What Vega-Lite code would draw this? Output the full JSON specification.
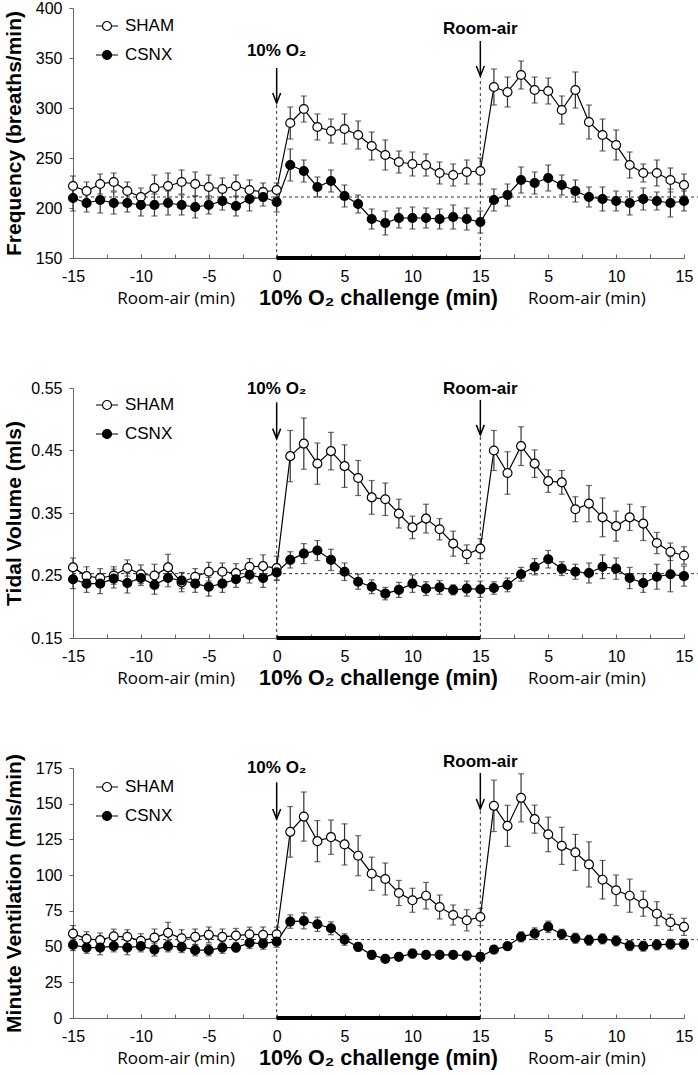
{
"$schema": "https://vega.github.io/schema/vega-lite/v6.json",
"padding": {"left": 3, "top": 0, "right": 0, "bottom": 0},
"spacing": 130,
"bounds": "flush",
"resolve": {"scale": {"x": "independent", "y": "independent", "fill": "independent"}, "legend": {"fill": "independent"}},
"config": {
  "view": {"stroke": null},
  "font": "Liberation Sans",
  "axis": {"grid": false, "domainColor": "#666", "tickColor": "#666", "labelColor": "black", "labelFontSize": 16, "labelFont": "Liberation Sans", "titleColor": "black", "labelOverlap": false, "labelBound": false, "labelFlush": false}
},
"datasets": {
"pts": [
{"p":"F","g":"SHAM","t":-15,"v":222,"e":10},{"p":"F","g":"SHAM","t":-14,"v":217,"e":9},{"p":"F","g":"SHAM","t":-13,"v":224,"e":10},{"p":"F","g":"SHAM","t":-12,"v":226,"e":9},{"p":"F","g":"SHAM","t":-11,"v":217,"e":9},{"p":"F","g":"SHAM","t":-10,"v":211,"e":9},{"p":"F","g":"SHAM","t":-9,"v":220,"e":13},{"p":"F","g":"SHAM","t":-8,"v":222,"e":13},{"p":"F","g":"SHAM","t":-7,"v":226,"e":12},{"p":"F","g":"SHAM","t":-6,"v":224,"e":12},{"p":"F","g":"SHAM","t":-5,"v":221,"e":12},{"p":"F","g":"SHAM","t":-4,"v":219,"e":11},{"p":"F","g":"SHAM","t":-3,"v":222,"e":11},{"p":"F","g":"SHAM","t":-2,"v":218,"e":10},{"p":"F","g":"SHAM","t":-1,"v":216,"e":9},{"p":"F","g":"SHAM","t":0,"v":218,"e":7},
{"p":"F","g":"SHAM","t":1,"v":285,"e":16},{"p":"F","g":"SHAM","t":2,"v":299,"e":13},{"p":"F","g":"SHAM","t":3,"v":281,"e":13},{"p":"F","g":"SHAM","t":4,"v":277,"e":12},{"p":"F","g":"SHAM","t":5,"v":279,"e":15},{"p":"F","g":"SHAM","t":6,"v":273,"e":14},{"p":"F","g":"SHAM","t":7,"v":262,"e":14},{"p":"F","g":"SHAM","t":8,"v":253,"e":15},{"p":"F","g":"SHAM","t":9,"v":246,"e":11},{"p":"F","g":"SHAM","t":10,"v":244,"e":12},{"p":"F","g":"SHAM","t":11,"v":243,"e":11},{"p":"F","g":"SHAM","t":12,"v":235,"e":11},{"p":"F","g":"SHAM","t":13,"v":233,"e":11},{"p":"F","g":"SHAM","t":14,"v":236,"e":12},{"p":"F","g":"SHAM","t":15,"v":237,"e":13},
{"p":"F","g":"SHAM","t":16,"v":321,"e":18},{"p":"F","g":"SHAM","t":17,"v":316,"e":15},{"p":"F","g":"SHAM","t":18,"v":333,"e":14},{"p":"F","g":"SHAM","t":19,"v":318,"e":13},{"p":"F","g":"SHAM","t":20,"v":317,"e":13},{"p":"F","g":"SHAM","t":21,"v":298,"e":14},{"p":"F","g":"SHAM","t":22,"v":318,"e":18},{"p":"F","g":"SHAM","t":23,"v":286,"e":17},{"p":"F","g":"SHAM","t":24,"v":273,"e":16},{"p":"F","g":"SHAM","t":25,"v":263,"e":15},{"p":"F","g":"SHAM","t":26,"v":243,"e":13},{"p":"F","g":"SHAM","t":27,"v":235,"e":9},{"p":"F","g":"SHAM","t":28,"v":235,"e":13},{"p":"F","g":"SHAM","t":29,"v":228,"e":12},{"p":"F","g":"SHAM","t":30,"v":223,"e":11},
{"p":"F","g":"CSNX","t":-15,"v":210,"e":13},{"p":"F","g":"CSNX","t":-14,"v":205,"e":9},{"p":"F","g":"CSNX","t":-13,"v":208,"e":13},{"p":"F","g":"CSNX","t":-12,"v":205,"e":11},{"p":"F","g":"CSNX","t":-11,"v":205,"e":9},{"p":"F","g":"CSNX","t":-10,"v":203,"e":11},{"p":"F","g":"CSNX","t":-9,"v":203,"e":11},{"p":"F","g":"CSNX","t":-8,"v":205,"e":12},{"p":"F","g":"CSNX","t":-7,"v":203,"e":10},{"p":"F","g":"CSNX","t":-6,"v":201,"e":11},{"p":"F","g":"CSNX","t":-5,"v":203,"e":9},{"p":"F","g":"CSNX","t":-4,"v":207,"e":9},{"p":"F","g":"CSNX","t":-3,"v":202,"e":10},{"p":"F","g":"CSNX","t":-2,"v":209,"e":12},{"p":"F","g":"CSNX","t":-1,"v":211,"e":9},{"p":"F","g":"CSNX","t":0,"v":206,"e":10},
{"p":"F","g":"CSNX","t":1,"v":243,"e":16},{"p":"F","g":"CSNX","t":2,"v":237,"e":11},{"p":"F","g":"CSNX","t":3,"v":221,"e":10},{"p":"F","g":"CSNX","t":4,"v":227,"e":11},{"p":"F","g":"CSNX","t":5,"v":212,"e":11},{"p":"F","g":"CSNX","t":6,"v":204,"e":9},{"p":"F","g":"CSNX","t":7,"v":189,"e":10},{"p":"F","g":"CSNX","t":8,"v":185,"e":12},{"p":"F","g":"CSNX","t":9,"v":190,"e":10},{"p":"F","g":"CSNX","t":10,"v":190,"e":11},{"p":"F","g":"CSNX","t":11,"v":190,"e":10},{"p":"F","g":"CSNX","t":12,"v":189,"e":10},{"p":"F","g":"CSNX","t":13,"v":191,"e":12},{"p":"F","g":"CSNX","t":14,"v":189,"e":11},{"p":"F","g":"CSNX","t":15,"v":186,"e":11},
{"p":"F","g":"CSNX","t":16,"v":208,"e":11},{"p":"F","g":"CSNX","t":17,"v":213,"e":11},{"p":"F","g":"CSNX","t":18,"v":228,"e":13},{"p":"F","g":"CSNX","t":19,"v":225,"e":11},{"p":"F","g":"CSNX","t":20,"v":230,"e":13},{"p":"F","g":"CSNX","t":21,"v":223,"e":10},{"p":"F","g":"CSNX","t":22,"v":217,"e":11},{"p":"F","g":"CSNX","t":23,"v":211,"e":10},{"p":"F","g":"CSNX","t":24,"v":209,"e":12},{"p":"F","g":"CSNX","t":25,"v":207,"e":10},{"p":"F","g":"CSNX","t":26,"v":205,"e":12},{"p":"F","g":"CSNX","t":27,"v":209,"e":11},{"p":"F","g":"CSNX","t":28,"v":207,"e":9},{"p":"F","g":"CSNX","t":29,"v":205,"e":14},{"p":"F","g":"CSNX","t":30,"v":207,"e":10},
{"p":"T","g":"SHAM","t":-15,"v":0.263,"e":0.015},{"p":"T","g":"SHAM","t":-14,"v":0.249,"e":0.015},{"p":"T","g":"SHAM","t":-13,"v":0.246,"e":0.015},{"p":"T","g":"SHAM","t":-12,"v":0.250,"e":0.014},{"p":"T","g":"SHAM","t":-11,"v":0.262,"e":0.013},{"p":"T","g":"SHAM","t":-10,"v":0.252,"e":0.015},{"p":"T","g":"SHAM","t":-9,"v":0.250,"e":0.018},{"p":"T","g":"SHAM","t":-8,"v":0.263,"e":0.021},{"p":"T","g":"SHAM","t":-7,"v":0.239,"e":0.015},{"p":"T","g":"SHAM","t":-6,"v":0.248,"e":0.013},{"p":"T","g":"SHAM","t":-5,"v":0.256,"e":0.015},{"p":"T","g":"SHAM","t":-4,"v":0.256,"e":0.014},{"p":"T","g":"SHAM","t":-3,"v":0.254,"e":0.015},{"p":"T","g":"SHAM","t":-2,"v":0.264,"e":0.013},{"p":"T","g":"SHAM","t":-1,"v":0.265,"e":0.018},{"p":"T","g":"SHAM","t":0,"v":0.262,"e":0.019},
{"p":"T","g":"SHAM","t":1,"v":0.441,"e":0.041},{"p":"T","g":"SHAM","t":2,"v":0.461,"e":0.041},{"p":"T","g":"SHAM","t":3,"v":0.429,"e":0.033},{"p":"T","g":"SHAM","t":4,"v":0.449,"e":0.030},{"p":"T","g":"SHAM","t":5,"v":0.425,"e":0.034},{"p":"T","g":"SHAM","t":6,"v":0.406,"e":0.028},{"p":"T","g":"SHAM","t":7,"v":0.375,"e":0.027},{"p":"T","g":"SHAM","t":8,"v":0.372,"e":0.026},{"p":"T","g":"SHAM","t":9,"v":0.349,"e":0.023},{"p":"T","g":"SHAM","t":10,"v":0.327,"e":0.018},{"p":"T","g":"SHAM","t":11,"v":0.341,"e":0.023},{"p":"T","g":"SHAM","t":12,"v":0.324,"e":0.017},{"p":"T","g":"SHAM","t":13,"v":0.301,"e":0.020},{"p":"T","g":"SHAM","t":14,"v":0.284,"e":0.015},{"p":"T","g":"SHAM","t":15,"v":0.293,"e":0.016},
{"p":"T","g":"SHAM","t":16,"v":0.450,"e":0.032},{"p":"T","g":"SHAM","t":17,"v":0.414,"e":0.034},{"p":"T","g":"SHAM","t":18,"v":0.457,"e":0.031},{"p":"T","g":"SHAM","t":19,"v":0.429,"e":0.022},{"p":"T","g":"SHAM","t":20,"v":0.401,"e":0.018},{"p":"T","g":"SHAM","t":21,"v":0.399,"e":0.019},{"p":"T","g":"SHAM","t":22,"v":0.356,"e":0.020},{"p":"T","g":"SHAM","t":23,"v":0.365,"e":0.029},{"p":"T","g":"SHAM","t":24,"v":0.343,"e":0.031},{"p":"T","g":"SHAM","t":25,"v":0.329,"e":0.024},{"p":"T","g":"SHAM","t":26,"v":0.343,"e":0.021},{"p":"T","g":"SHAM","t":27,"v":0.333,"e":0.027},{"p":"T","g":"SHAM","t":28,"v":0.302,"e":0.017},{"p":"T","g":"SHAM","t":29,"v":0.288,"e":0.014},{"p":"T","g":"SHAM","t":30,"v":0.282,"e":0.014},
{"p":"T","g":"CSNX","t":-15,"v":0.244,"e":0.015},{"p":"T","g":"CSNX","t":-14,"v":0.237,"e":0.014},{"p":"T","g":"CSNX","t":-13,"v":0.237,"e":0.016},{"p":"T","g":"CSNX","t":-12,"v":0.245,"e":0.015},{"p":"T","g":"CSNX","t":-11,"v":0.238,"e":0.016},{"p":"T","g":"CSNX","t":-10,"v":0.246,"e":0.012},{"p":"T","g":"CSNX","t":-9,"v":0.235,"e":0.015},{"p":"T","g":"CSNX","t":-8,"v":0.246,"e":0.014},{"p":"T","g":"CSNX","t":-7,"v":0.242,"e":0.013},{"p":"T","g":"CSNX","t":-6,"v":0.237,"e":0.014},{"p":"T","g":"CSNX","t":-5,"v":0.232,"e":0.015},{"p":"T","g":"CSNX","t":-4,"v":0.237,"e":0.014},{"p":"T","g":"CSNX","t":-3,"v":0.244,"e":0.013},{"p":"T","g":"CSNX","t":-2,"v":0.251,"e":0.013},{"p":"T","g":"CSNX","t":-1,"v":0.246,"e":0.015},{"p":"T","g":"CSNX","t":0,"v":0.255,"e":0.013},
{"p":"T","g":"CSNX","t":1,"v":0.275,"e":0.013},{"p":"T","g":"CSNX","t":2,"v":0.285,"e":0.016},{"p":"T","g":"CSNX","t":3,"v":0.290,"e":0.016},{"p":"T","g":"CSNX","t":4,"v":0.275,"e":0.017},{"p":"T","g":"CSNX","t":5,"v":0.256,"e":0.014},{"p":"T","g":"CSNX","t":6,"v":0.240,"e":0.012},{"p":"T","g":"CSNX","t":7,"v":0.232,"e":0.011},{"p":"T","g":"CSNX","t":8,"v":0.221,"e":0.010},{"p":"T","g":"CSNX","t":9,"v":0.227,"e":0.012},{"p":"T","g":"CSNX","t":10,"v":0.237,"e":0.014},{"p":"T","g":"CSNX","t":11,"v":0.229,"e":0.011},{"p":"T","g":"CSNX","t":12,"v":0.231,"e":0.011},{"p":"T","g":"CSNX","t":13,"v":0.227,"e":0.008},{"p":"T","g":"CSNX","t":14,"v":0.229,"e":0.012},{"p":"T","g":"CSNX","t":15,"v":0.228,"e":0.013},
{"p":"T","g":"CSNX","t":16,"v":0.230,"e":0.010},{"p":"T","g":"CSNX","t":17,"v":0.235,"e":0.011},{"p":"T","g":"CSNX","t":18,"v":0.252,"e":0.011},{"p":"T","g":"CSNX","t":19,"v":0.264,"e":0.013},{"p":"T","g":"CSNX","t":20,"v":0.276,"e":0.014},{"p":"T","g":"CSNX","t":21,"v":0.261,"e":0.011},{"p":"T","g":"CSNX","t":22,"v":0.256,"e":0.012},{"p":"T","g":"CSNX","t":23,"v":0.254,"e":0.016},{"p":"T","g":"CSNX","t":24,"v":0.264,"e":0.019},{"p":"T","g":"CSNX","t":25,"v":0.261,"e":0.017},{"p":"T","g":"CSNX","t":26,"v":0.246,"e":0.017},{"p":"T","g":"CSNX","t":27,"v":0.238,"e":0.015},{"p":"T","g":"CSNX","t":28,"v":0.248,"e":0.020},{"p":"T","g":"CSNX","t":29,"v":0.252,"e":0.028},{"p":"T","g":"CSNX","t":30,"v":0.249,"e":0.016},
{"p":"M","g":"SHAM","t":-15,"v":59.1,"e":5.6},{"p":"M","g":"SHAM","t":-14,"v":55.4,"e":5},{"p":"M","g":"SHAM","t":-13,"v":54.5,"e":5},{"p":"M","g":"SHAM","t":-12,"v":57.2,"e":5},{"p":"M","g":"SHAM","t":-11,"v":56.8,"e":5},{"p":"M","g":"SHAM","t":-10,"v":54,"e":5},{"p":"M","g":"SHAM","t":-9,"v":56.3,"e":6},{"p":"M","g":"SHAM","t":-8,"v":59.6,"e":7.4},{"p":"M","g":"SHAM","t":-7,"v":55.8,"e":6},{"p":"M","g":"SHAM","t":-6,"v":56.8,"e":5.5},{"p":"M","g":"SHAM","t":-5,"v":58.2,"e":5.5},{"p":"M","g":"SHAM","t":-4,"v":56.8,"e":5.5},{"p":"M","g":"SHAM","t":-3,"v":57.7,"e":5},{"p":"M","g":"SHAM","t":-2,"v":58.6,"e":5},{"p":"M","g":"SHAM","t":-1,"v":58.2,"e":5.5},{"p":"M","g":"SHAM","t":0,"v":58.6,"e":5},
{"p":"M","g":"SHAM","t":1,"v":130.3,"e":17.7},{"p":"M","g":"SHAM","t":2,"v":141,"e":17.2},{"p":"M","g":"SHAM","t":3,"v":123.8,"e":14.4},{"p":"M","g":"SHAM","t":4,"v":126.6,"e":12},{"p":"M","g":"SHAM","t":5,"v":121.5,"e":14.4},{"p":"M","g":"SHAM","t":6,"v":113.6,"e":14},{"p":"M","g":"SHAM","t":7,"v":101,"e":11.6},{"p":"M","g":"SHAM","t":8,"v":97.3,"e":11.2},{"p":"M","g":"SHAM","t":9,"v":87.5,"e":8.8},{"p":"M","g":"SHAM","t":10,"v":82.4,"e":8.4},{"p":"M","g":"SHAM","t":11,"v":85.6,"e":9.3},{"p":"M","g":"SHAM","t":12,"v":77.7,"e":8.4},{"p":"M","g":"SHAM","t":13,"v":72.1,"e":7},{"p":"M","g":"SHAM","t":14,"v":68.4,"e":7.4},{"p":"M","g":"SHAM","t":15,"v":70.7,"e":6},
{"p":"M","g":"SHAM","t":16,"v":148.5,"e":18},{"p":"M","g":"SHAM","t":17,"v":134.5,"e":14.4},{"p":"M","g":"SHAM","t":18,"v":154.1,"e":16.8},{"p":"M","g":"SHAM","t":19,"v":139.2,"e":9.8},{"p":"M","g":"SHAM","t":20,"v":128.5,"e":12.1},{"p":"M","g":"SHAM","t":21,"v":120.5,"e":13},{"p":"M","g":"SHAM","t":22,"v":115.9,"e":12.6},{"p":"M","g":"SHAM","t":23,"v":107.5,"e":15.8},{"p":"M","g":"SHAM","t":24,"v":96.8,"e":13.5},{"p":"M","g":"SHAM","t":25,"v":89.4,"e":10.7},{"p":"M","g":"SHAM","t":26,"v":85.6,"e":11.6},{"p":"M","g":"SHAM","t":27,"v":80,"e":8.8},{"p":"M","g":"SHAM","t":28,"v":73,"e":8.4},{"p":"M","g":"SHAM","t":29,"v":67,"e":5.6},{"p":"M","g":"SHAM","t":30,"v":63.8,"e":6},
{"p":"M","g":"CSNX","t":-15,"v":51.2,"e":4},{"p":"M","g":"CSNX","t":-14,"v":49.3,"e":4},{"p":"M","g":"CSNX","t":-13,"v":49.3,"e":5},{"p":"M","g":"CSNX","t":-12,"v":50.3,"e":4},{"p":"M","g":"CSNX","t":-11,"v":49.3,"e":5},{"p":"M","g":"CSNX","t":-10,"v":50.3,"e":4},{"p":"M","g":"CSNX","t":-9,"v":47.9,"e":4.5},{"p":"M","g":"CSNX","t":-8,"v":50.3,"e":4},{"p":"M","g":"CSNX","t":-7,"v":49.8,"e":4},{"p":"M","g":"CSNX","t":-6,"v":47.5,"e":4},{"p":"M","g":"CSNX","t":-5,"v":47.5,"e":4},{"p":"M","g":"CSNX","t":-4,"v":49.3,"e":4},{"p":"M","g":"CSNX","t":-3,"v":49.3,"e":3},{"p":"M","g":"CSNX","t":-2,"v":52.6,"e":4},{"p":"M","g":"CSNX","t":-1,"v":52.1,"e":4},{"p":"M","g":"CSNX","t":0,"v":53.5,"e":4},
{"p":"M","g":"CSNX","t":1,"v":67.5,"e":4.7},{"p":"M","g":"CSNX","t":2,"v":68,"e":5.6},{"p":"M","g":"CSNX","t":3,"v":65.6,"e":5},{"p":"M","g":"CSNX","t":4,"v":62.8,"e":4.5},{"p":"M","g":"CSNX","t":5,"v":54.9,"e":4},{"p":"M","g":"CSNX","t":6,"v":49.8,"e":3},{"p":"M","g":"CSNX","t":7,"v":44.2,"e":3},{"p":"M","g":"CSNX","t":8,"v":41.4,"e":2},{"p":"M","g":"CSNX","t":9,"v":42.8,"e":2.5},{"p":"M","g":"CSNX","t":10,"v":45.1,"e":3},{"p":"M","g":"CSNX","t":11,"v":44.2,"e":2.5},{"p":"M","g":"CSNX","t":12,"v":44.2,"e":2.5},{"p":"M","g":"CSNX","t":13,"v":44.2,"e":2.5},{"p":"M","g":"CSNX","t":14,"v":43.7,"e":3},{"p":"M","g":"CSNX","t":15,"v":42.8,"e":3},
{"p":"M","g":"CSNX","t":16,"v":47.9,"e":2.5},{"p":"M","g":"CSNX","t":17,"v":50.3,"e":2.5},{"p":"M","g":"CSNX","t":18,"v":56.8,"e":3.5},{"p":"M","g":"CSNX","t":19,"v":59.1,"e":4},{"p":"M","g":"CSNX","t":20,"v":63.8,"e":4},{"p":"M","g":"CSNX","t":21,"v":58.6,"e":3.5},{"p":"M","g":"CSNX","t":22,"v":55.8,"e":3.5},{"p":"M","g":"CSNX","t":23,"v":54.5,"e":3.5},{"p":"M","g":"CSNX","t":24,"v":55.4,"e":3.5},{"p":"M","g":"CSNX","t":25,"v":54,"e":3.5},{"p":"M","g":"CSNX","t":26,"v":50.7,"e":3.5},{"p":"M","g":"CSNX","t":27,"v":50.3,"e":3.5},{"p":"M","g":"CSNX","t":28,"v":51.2,"e":3.5},{"p":"M","g":"CSNX","t":29,"v":51.7,"e":3.5},{"p":"M","g":"CSNX","t":30,"v":51.7,"e":3.5}
],
"hl": [{"p":"F","base":211,"lo":150},{"p":"T","base":0.253,"lo":0.15},{"p":"M","base":54.9,"lo":0}],
"vl": [{"p":"F","t":0,"lo":150,"tip":305,"top":340},{"p":"F","t":15,"lo":150,"tip":332,"top":367},{"p":"T","t":0,"lo":0.15,"tip":0.469,"top":0.527},{"p":"T","t":15,"lo":0.15,"tip":0.475,"top":0.531},{"p":"M","t":0,"lo":0,"tip":139.3,"top":165},{"p":"M","t":15,"lo":0,"tip":146.3,"top":171.5}],
"lab": [
{"p":"F","k":"a","t":0,"y":357,"txt":"10% O₂"},{"p":"F","k":"a","t":15,"y":379,"txt":"Room-air"},{"p":"F","k":"r","t":-7.4,"y":109,"txt":"Room-air (min)"},{"p":"F","k":"r","t":22.85,"y":109,"txt":"Room-air (min)"},{"p":"F","k":"c","t":7.5,"y":109,"txt":"10% O₂ challenge (min)"},
{"p":"T","k":"a","t":0,"y":0.548,"txt":"10% O₂"},{"p":"T","k":"a","t":15,"y":0.549,"txt":"Room-air"},{"p":"T","k":"r","t":-7.4,"y":0.085,"txt":"Room-air (min)"},{"p":"T","k":"r","t":22.85,"y":0.085,"txt":"Room-air (min)"},{"p":"T","k":"c","t":7.5,"y":0.085,"txt":"10% O₂ challenge (min)"},
{"p":"M","k":"a","t":0,"y":174.8,"txt":"10% O₂"},{"p":"M","k":"a","t":15,"y":179.4,"txt":"Room-air"},{"p":"M","k":"r","t":-7.4,"y":-28.7,"txt":"Room-air (min)"},{"p":"M","k":"r","t":22.85,"y":-28.7,"txt":"Room-air (min)"},{"p":"M","k":"c","t":7.5,"y":-28.7,"txt":"10% O₂ challenge (min)"}
]
},
"vconcat": [
{
"width": 611, "height": 250,
"layer": [
{"data":{"name":"hl"},"transform":[{"filter":"datum.p=='F'"}],"mark":{"type":"rule","strokeDash":[3,3],"color":"#333","strokeWidth":1},"encoding":{"x":{"datum":-15,"type":"quantitative"},"x2":{"datum":31.1},"y":{"field":"base","type":"quantitative","title":"Frequency (breaths/min)"}}},
{"data":{"name":"vl"},"transform":[{"filter":"datum.p=='F'"}],"mark":{"type":"rule","strokeDash":[3,3],"color":"#333","strokeWidth":1},"encoding":{"x":{"field":"t","type":"quantitative","title":null},"y":{"field":"lo","type":"quantitative","title":"Frequency (breaths/min)"},"y2":{"field":"tip"}}},
{"data":{"name":"vl"},"transform":[{"filter":"datum.p=='F'"}],"mark":{"type":"rule","color":"black","strokeWidth":1.5},"encoding":{"x":{"field":"t","type":"quantitative","title":null},"y":{"field":"tip","type":"quantitative","title":"Frequency (breaths/min)"},"y2":{"field":"top"}}},
{"data":{"name":"vl"},"transform":[{"filter":"datum.p=='F'"}],"mark":{"type":"point","shape":"M-0.8,-2L0,0L0.8,-2","filled":false,"stroke":"black","strokeWidth":1.5,"size":100,"opacity":1},"encoding":{"x":{"field":"t","type":"quantitative","title":null},"y":{"field":"tip","type":"quantitative","title":"Frequency (breaths/min)"}}},
{"data":{"name":"hl"},"transform":[{"filter":"datum.p=='F'"}],"mark":{"type":"rule","color":"black","strokeWidth":4},"encoding":{"x":{"datum":0,"type":"quantitative"},"x2":{"datum":15},"y":{"field":"lo","type":"quantitative","title":"Frequency (breaths/min)"}}},
{"data":{"name":"pts"},"transform":[{"filter":"datum.p=='F'"}],"mark":{"type":"line","color":"black","strokeWidth":1.2},"encoding":{
  "x":{"field":"t","type":"quantitative","title":null,"scale":{"domain":[-15,30],"nice":false,"zero":false},"axis":{"title":null,"values":[-15,-12.5,-10,-7.5,-5,-2.5,0,2.5,5,7.5,10,12.5,15,17.5,20,22.5,25,27.5,30],"tickCount":30,"tickSize":-4,"labelPadding":14,"labelOverlap":false,"labelExpr":"datum.value % 5 != 0 ? '' : (datum.value > 15 ? '' + (datum.value - 15) : '' + datum.value)"}},
  "y":{"field":"v","type":"quantitative","title":"Frequency (breaths/min)","scale":{"domain":[150,400],"nice":false,"zero":false},"axis":{"title":"Frequency (breaths/min)","values":[150,200,250,300,350,400],"tickCount":12,"labelOverlap":false,"tickSize":4,"labelPadding":7,"titleFontSize":21,"titleFontWeight":"bold","titlePadding":10.5}},
  "detail":{"field":"g"}}},
{"data":{"name":"pts"},"transform":[{"filter":"datum.p=='F'"}],"mark":{"type":"errorbar","ticks":{"size":6},"color":"#333","thickness":1.2},"encoding":{"x":{"field":"t","type":"quantitative","title":null},"y":{"field":"v","type":"quantitative","title":"Frequency (breaths/min)"},"yError":{"field":"e"},"detail":{"field":"g"}}},
{"data":{"name":"pts"},"transform":[{"filter":"datum.p=='F'"}],"mark":{"type":"point","filled":true,"size":80,"stroke":"black","strokeWidth":1.2,"opacity":1},"encoding":{"x":{"field":"t","type":"quantitative","title":null},"y":{"field":"v","type":"quantitative","title":"Frequency (breaths/min)"},
  "fill":{"field":"g","type":"nominal","scale":{"domain":["SHAM","CSNX"],"range":["white","black"]},"legend":{"orient":"none","legendX":22,"legendY":6,"title":null,"padding":0,"symbolType":"M-1,0L-0.41,0M0.41,0L1,0M0.41,0A0.41,0.41,0,1,1,-0.41,0A0.41,0.41,0,1,1,0.41,0Z","symbolSize":484,"symbolStrokeColor":"black","symbolStrokeWidth":1.2,"labelFontSize":17,"labelFont":"Liberation Sans","labelColor":"black","labelOffset":6,"rowPadding":9}}}},
{"data":{"name":"lab"},"transform":[{"filter":"datum.p=='F' && datum.k=='a'"}],"mark":{"type":"text","font":"Liberation Sans","fontSize":17,"fontWeight":"bold","baseline":"middle","align":"center","color":"black"},"encoding":{"x":{"field":"t","type":"quantitative","title":null},"y":{"field":"y","type":"quantitative","title":"Frequency (breaths/min)"},"text":{"field":"txt"}}},
{"data":{"name":"lab"},"transform":[{"filter":"datum.p=='F' && datum.k=='r'"}],"mark":{"type":"text","font":"Open Sans","fontSize":17,"baseline":"middle","align":"center","color":"black"},"encoding":{"x":{"field":"t","type":"quantitative","title":null},"y":{"field":"y","type":"quantitative","title":"Frequency (breaths/min)"},"text":{"field":"txt"}}},
{"data":{"name":"lab"},"transform":[{"filter":"datum.p=='F' && datum.k=='c'"}],"mark":{"type":"text","font":"Liberation Sans","fontSize":21.5,"fontWeight":"bold","baseline":"middle","align":"center","color":"black"},"encoding":{"x":{"field":"t","type":"quantitative","title":null},"y":{"field":"y","type":"quantitative","title":"Frequency (breaths/min)"},"text":{"field":"txt"}}}
]
},
{
"width": 611, "height": 250,
"layer": [
{"data":{"name":"hl"},"transform":[{"filter":"datum.p=='T'"}],"mark":{"type":"rule","strokeDash":[3,3],"color":"#333","strokeWidth":1},"encoding":{"x":{"datum":-15,"type":"quantitative"},"x2":{"datum":31.1},"y":{"field":"base","type":"quantitative","title":"Tidal Volume (mls)"}}},
{"data":{"name":"vl"},"transform":[{"filter":"datum.p=='T'"}],"mark":{"type":"rule","strokeDash":[3,3],"color":"#333","strokeWidth":1},"encoding":{"x":{"field":"t","type":"quantitative","title":null},"y":{"field":"lo","type":"quantitative","title":"Tidal Volume (mls)"},"y2":{"field":"tip"}}},
{"data":{"name":"vl"},"transform":[{"filter":"datum.p=='T'"}],"mark":{"type":"rule","color":"black","strokeWidth":1.5},"encoding":{"x":{"field":"t","type":"quantitative","title":null},"y":{"field":"tip","type":"quantitative","title":"Tidal Volume (mls)"},"y2":{"field":"top"}}},
{"data":{"name":"vl"},"transform":[{"filter":"datum.p=='T'"}],"mark":{"type":"point","shape":"M-0.8,-2L0,0L0.8,-2","filled":false,"stroke":"black","strokeWidth":1.5,"size":100,"opacity":1},"encoding":{"x":{"field":"t","type":"quantitative","title":null},"y":{"field":"tip","type":"quantitative","title":"Tidal Volume (mls)"}}},
{"data":{"name":"hl"},"transform":[{"filter":"datum.p=='T'"}],"mark":{"type":"rule","color":"black","strokeWidth":4},"encoding":{"x":{"datum":0,"type":"quantitative"},"x2":{"datum":15},"y":{"field":"lo","type":"quantitative","title":"Tidal Volume (mls)"}}},
{"data":{"name":"pts"},"transform":[{"filter":"datum.p=='T'"}],"mark":{"type":"line","color":"black","strokeWidth":1.2},"encoding":{
  "x":{"field":"t","type":"quantitative","title":null,"scale":{"domain":[-15,30],"nice":false,"zero":false},"axis":{"title":null,"values":[-15,-12.5,-10,-7.5,-5,-2.5,0,2.5,5,7.5,10,12.5,15,17.5,20,22.5,25,27.5,30],"tickCount":30,"tickSize":-4,"labelPadding":14,"labelOverlap":false,"labelExpr":"datum.value % 5 != 0 ? '' : (datum.value > 15 ? '' + (datum.value - 15) : '' + datum.value)"}},
  "y":{"field":"v","type":"quantitative","title":"Tidal Volume (mls)","scale":{"domain":[0.15,0.55],"nice":false,"zero":false},"axis":{"title":"Tidal Volume (mls)","values":[0.15,0.25,0.35,0.45,0.55],"tickCount":12,"format":".2f","labelOverlap":false,"tickSize":4,"labelPadding":7,"titleFontSize":21,"titleFontWeight":"bold","titlePadding":6}},
  "detail":{"field":"g"}}},
{"data":{"name":"pts"},"transform":[{"filter":"datum.p=='T'"}],"mark":{"type":"errorbar","ticks":{"size":6},"color":"#333","thickness":1.2},"encoding":{"x":{"field":"t","type":"quantitative","title":null},"y":{"field":"v","type":"quantitative","title":"Tidal Volume (mls)"},"yError":{"field":"e"},"detail":{"field":"g"}}},
{"data":{"name":"pts"},"transform":[{"filter":"datum.p=='T'"}],"mark":{"type":"point","filled":true,"size":80,"stroke":"black","strokeWidth":1.2,"opacity":1},"encoding":{"x":{"field":"t","type":"quantitative","title":null},"y":{"field":"v","type":"quantitative","title":"Tidal Volume (mls)"},
  "fill":{"field":"g","type":"nominal","scale":{"domain":["SHAM","CSNX"],"range":["white","black"]},"legend":{"orient":"none","legendX":22,"legendY":5,"title":null,"padding":0,"symbolType":"M-1,0L-0.41,0M0.41,0L1,0M0.41,0A0.41,0.41,0,1,1,-0.41,0A0.41,0.41,0,1,1,0.41,0Z","symbolSize":484,"symbolStrokeColor":"black","symbolStrokeWidth":1.2,"labelFontSize":17,"labelFont":"Liberation Sans","labelColor":"black","labelOffset":6,"rowPadding":9}}}},
{"data":{"name":"lab"},"transform":[{"filter":"datum.p=='T' && datum.k=='a'"}],"mark":{"type":"text","font":"Liberation Sans","fontSize":17,"fontWeight":"bold","baseline":"middle","align":"center","color":"black"},"encoding":{"x":{"field":"t","type":"quantitative","title":null},"y":{"field":"y","type":"quantitative","title":"Tidal Volume (mls)"},"text":{"field":"txt"}}},
{"data":{"name":"lab"},"transform":[{"filter":"datum.p=='T' && datum.k=='r'"}],"mark":{"type":"text","font":"Open Sans","fontSize":17,"baseline":"middle","align":"center","color":"black"},"encoding":{"x":{"field":"t","type":"quantitative","title":null},"y":{"field":"y","type":"quantitative","title":"Tidal Volume (mls)"},"text":{"field":"txt"}}},
{"data":{"name":"lab"},"transform":[{"filter":"datum.p=='T' && datum.k=='c'"}],"mark":{"type":"text","font":"Liberation Sans","fontSize":21.5,"fontWeight":"bold","baseline":"middle","align":"center","color":"black"},"encoding":{"x":{"field":"t","type":"quantitative","title":null},"y":{"field":"y","type":"quantitative","title":"Tidal Volume (mls)"},"text":{"field":"txt"}}}
]
},
{
"width": 611, "height": 250,
"layer": [
{"data":{"name":"hl"},"transform":[{"filter":"datum.p=='M'"}],"mark":{"type":"rule","strokeDash":[3,3],"color":"#333","strokeWidth":1},"encoding":{"x":{"datum":-15,"type":"quantitative"},"x2":{"datum":31.1},"y":{"field":"base","type":"quantitative","title":"Minute Ventilation (mls/min)"}}},
{"data":{"name":"vl"},"transform":[{"filter":"datum.p=='M'"}],"mark":{"type":"rule","strokeDash":[3,3],"color":"#333","strokeWidth":1},"encoding":{"x":{"field":"t","type":"quantitative","title":null},"y":{"field":"lo","type":"quantitative","title":"Minute Ventilation (mls/min)"},"y2":{"field":"tip"}}},
{"data":{"name":"vl"},"transform":[{"filter":"datum.p=='M'"}],"mark":{"type":"rule","color":"black","strokeWidth":1.5},"encoding":{"x":{"field":"t","type":"quantitative","title":null},"y":{"field":"tip","type":"quantitative","title":"Minute Ventilation (mls/min)"},"y2":{"field":"top"}}},
{"data":{"name":"vl"},"transform":[{"filter":"datum.p=='M'"}],"mark":{"type":"point","shape":"M-0.8,-2L0,0L0.8,-2","filled":false,"stroke":"black","strokeWidth":1.5,"size":100,"opacity":1},"encoding":{"x":{"field":"t","type":"quantitative","title":null},"y":{"field":"tip","type":"quantitative","title":"Minute Ventilation (mls/min)"}}},
{"data":{"name":"hl"},"transform":[{"filter":"datum.p=='M'"}],"mark":{"type":"rule","color":"black","strokeWidth":4},"encoding":{"x":{"datum":0,"type":"quantitative"},"x2":{"datum":15},"y":{"field":"lo","type":"quantitative","title":"Minute Ventilation (mls/min)"}}},
{"data":{"name":"pts"},"transform":[{"filter":"datum.p=='M'"}],"mark":{"type":"line","color":"black","strokeWidth":1.2},"encoding":{
  "x":{"field":"t","type":"quantitative","title":null,"scale":{"domain":[-15,30],"nice":false,"zero":false},"axis":{"title":null,"values":[-15,-12.5,-10,-7.5,-5,-2.5,0,2.5,5,7.5,10,12.5,15,17.5,20,22.5,25,27.5,30],"tickCount":30,"tickSize":-4,"labelPadding":14,"labelOverlap":false,"labelExpr":"datum.value % 5 != 0 ? '' : (datum.value > 15 ? '' + (datum.value - 15) : '' + datum.value)"}},
  "y":{"field":"v","type":"quantitative","title":"Minute Ventilation (mls/min)","scale":{"domain":[0,175],"nice":false,"zero":false},"axis":{"title":"Minute Ventilation (mls/min)","values":[0,25,50,75,100,125,150,175],"tickCount":12,"labelOverlap":false,"tickSize":4,"labelPadding":7,"titleFontSize":21,"titleFontWeight":"bold","titlePadding":10.5}},
  "detail":{"field":"g"}}},
{"data":{"name":"pts"},"transform":[{"filter":"datum.p=='M'"}],"mark":{"type":"errorbar","ticks":{"size":6},"color":"#333","thickness":1.2},"encoding":{"x":{"field":"t","type":"quantitative","title":null},"y":{"field":"v","type":"quantitative","title":"Minute Ventilation (mls/min)"},"yError":{"field":"e"},"detail":{"field":"g"}}},
{"data":{"name":"pts"},"transform":[{"filter":"datum.p=='M'"}],"mark":{"type":"point","filled":true,"size":80,"stroke":"black","strokeWidth":1.2,"opacity":1},"encoding":{"x":{"field":"t","type":"quantitative","title":null},"y":{"field":"v","type":"quantitative","title":"Minute Ventilation (mls/min)"},
  "fill":{"field":"g","type":"nominal","scale":{"domain":["SHAM","CSNX"],"range":["white","black"]},"legend":{"orient":"none","legendX":22,"legendY":7,"title":null,"padding":0,"symbolType":"M-1,0L-0.41,0M0.41,0L1,0M0.41,0A0.41,0.41,0,1,1,-0.41,0A0.41,0.41,0,1,1,0.41,0Z","symbolSize":484,"symbolStrokeColor":"black","symbolStrokeWidth":1.2,"labelFontSize":17,"labelFont":"Liberation Sans","labelColor":"black","labelOffset":6,"rowPadding":9}}}},
{"data":{"name":"lab"},"transform":[{"filter":"datum.p=='M' && datum.k=='a'"}],"mark":{"type":"text","font":"Liberation Sans","fontSize":17,"fontWeight":"bold","baseline":"middle","align":"center","color":"black"},"encoding":{"x":{"field":"t","type":"quantitative","title":null},"y":{"field":"y","type":"quantitative","title":"Minute Ventilation (mls/min)"},"text":{"field":"txt"}}},
{"data":{"name":"lab"},"transform":[{"filter":"datum.p=='M' && datum.k=='r'"}],"mark":{"type":"text","font":"Open Sans","fontSize":17,"baseline":"middle","align":"center","color":"black"},"encoding":{"x":{"field":"t","type":"quantitative","title":null},"y":{"field":"y","type":"quantitative","title":"Minute Ventilation (mls/min)"},"text":{"field":"txt"}}},
{"data":{"name":"lab"},"transform":[{"filter":"datum.p=='M' && datum.k=='c'"}],"mark":{"type":"text","font":"Liberation Sans","fontSize":21.5,"fontWeight":"bold","baseline":"middle","align":"center","color":"black"},"encoding":{"x":{"field":"t","type":"quantitative","title":null},"y":{"field":"y","type":"quantitative","title":"Minute Ventilation (mls/min)"},"text":{"field":"txt"}}}
]
}
]
}
